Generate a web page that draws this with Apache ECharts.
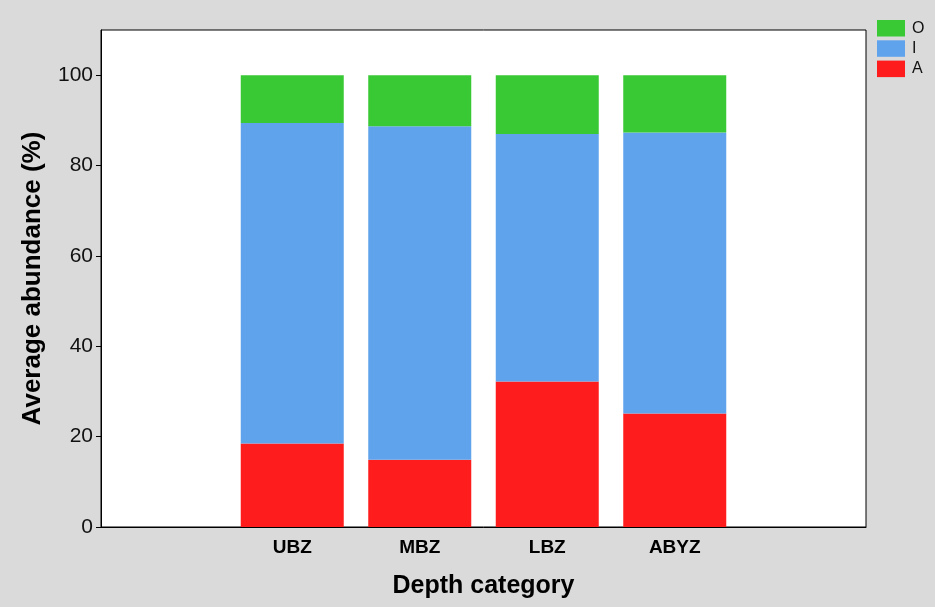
<!DOCTYPE html>
<html><head><meta charset="utf-8">
<script src="https://cdn.jsdelivr.net/npm/echarts@6/dist/echarts.min.js"></script>
<style>html,body{margin:0;padding:0;background:#dadada;}#c{width:935px;height:607px;}</style>
</head><body><div id="c"></div>
<script>
const categories = ['', 'UBZ', 'MBZ', 'LBZ', 'ABYZ', ''];
const seriesA = [null, 18.5, 14.9, 32.2, 25.1, null];
const seriesI = [null, 70.9, 73.8, 54.8, 62.2, null];
const seriesO = [null, 10.6, 11.3, 13.0, 12.7, null];
const yTicks = [0, 20, 40, 60, 80, 100];

const chart = echarts.init(document.getElementById('c'));
chart.setOption({
  backgroundColor: '#dadada',
  animation: false,
  grid: { left: 101, right: 69, top: 30, bottom: 80, outerBoundsMode: 'none', containLabel: false,
    show: true, backgroundColor: '#ffffff', borderColor: '#000', borderWidth: 1 },
  legend: {
    data: ['O', 'I', 'A'], orient: 'vertical', left: 872, top: 15,
    itemWidth: 28, itemHeight: 16.5, itemGap: 3.8, icon: 'rect',
    textStyle: { fontFamily: 'Liberation Sans', fontSize: 16, color: '#111', padding: [0, 0, 0, 2] }
  },
  xAxis: {
    type: 'category', data: categories,
    axisLine: { lineStyle: { color: '#000' } }, axisTick: { show: false },
    axisLabel: { fontFamily: 'Liberation Sans', fontWeight: 'bold', fontSize: 19, color: '#000', margin: 11 },
    name: 'Depth category', nameLocation: 'middle', nameGap: 47,
    nameTextStyle: { fontFamily: 'Liberation Sans', fontWeight: 'bold', fontSize: 25, color: '#000' }
  },
  yAxis: {
    type: 'value', min: 0, max: 110, interval: 20,
    axisLine: { show: true, lineStyle: { color: '#000' } },
    axisTick: { show: true, length: 5, lineStyle: { color: '#000' }, customValues: yTicks },
    splitLine: { show: false },
    axisLabel: { fontFamily: 'Liberation Sans', fontSize: 21, color: '#111', margin: 8, customValues: yTicks },
    name: 'Average abundance (%)', nameLocation: 'middle', nameGap: 55, nameRotate: 90,
    nameTextStyle: { fontFamily: 'Liberation Sans', fontWeight: 'bold', fontSize: 26, color: '#000' }
  },
  series: [
    { name: 'A', type: 'bar', stack: 's', data: seriesA, barWidth: 103, itemStyle: { color: '#ff1c1c' } },
    { name: 'I', type: 'bar', stack: 's', data: seriesI, barWidth: 103, itemStyle: { color: '#5fa3ec' } },
    { name: 'O', type: 'bar', stack: 's', data: seriesO, barWidth: 103, itemStyle: { color: '#38c934' } }
  ]
});
</script></body></html>
